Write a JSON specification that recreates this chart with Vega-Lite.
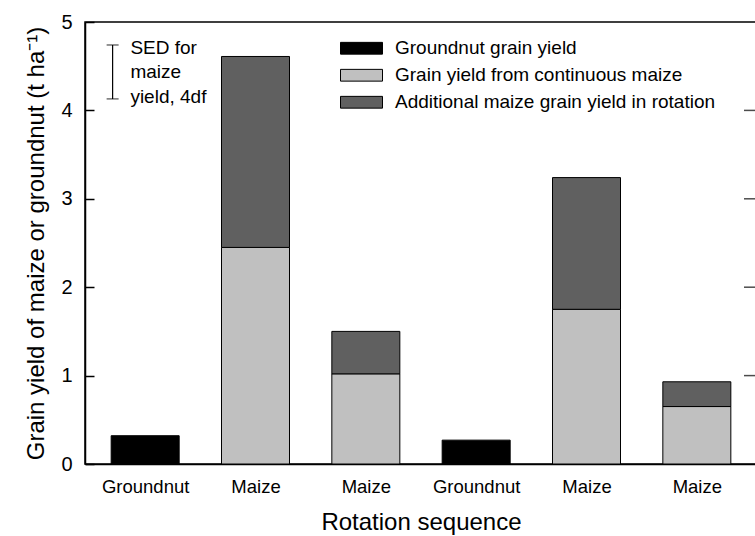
{
  "$schema": "https://vega.github.io/schema/vega-lite/v6.json",
  "autosize": {"type": "none"},
  "padding": {"left": 85, "top": 22, "right": 0, "bottom": 72},
  "width": 672,
  "height": 442,
  "config": {
    "font": "Liberation Sans",
    "view": {"stroke": "black", "strokeWidth": 1.5},
    "axis": {"grid": false, "domainColor": "black", "tickColor": "black", "labelColor": "black", "titleColor": "black", "titleFontWeight": "normal"}
  },
  "datasets": {
    "bars": [
      {"pos": 1, "crop": "Groundnut", "component": "Groundnut grain yield", "y0": 0, "y1": 0.32},
      {"pos": 2, "crop": "Maize", "component": "Grain yield from continuous maize", "y0": 0, "y1": 2.45},
      {"pos": 2, "crop": "Maize", "component": "Additional maize grain yield in rotation", "y0": 2.45, "y1": 4.61},
      {"pos": 3, "crop": "Maize", "component": "Grain yield from continuous maize", "y0": 0, "y1": 1.02},
      {"pos": 3, "crop": "Maize", "component": "Additional maize grain yield in rotation", "y0": 1.02, "y1": 1.5},
      {"pos": 4, "crop": "Groundnut", "component": "Groundnut grain yield", "y0": 0, "y1": 0.27},
      {"pos": 5, "crop": "Maize", "component": "Grain yield from continuous maize", "y0": 0, "y1": 1.75},
      {"pos": 5, "crop": "Maize", "component": "Additional maize grain yield in rotation", "y0": 1.75, "y1": 3.24},
      {"pos": 6, "crop": "Maize", "component": "Grain yield from continuous maize", "y0": 0, "y1": 0.65},
      {"pos": 6, "crop": "Maize", "component": "Additional maize grain yield in rotation", "y0": 0.65, "y1": 0.93}
    ],
    "sed": [{"x": 0.705, "lo": 4.13, "hi": 4.74}],
    "notes": [
      {"x": 0.866, "y": 4.71, "text": "SED for"},
      {"x": 0.866, "y": 4.43, "text": "maize"},
      {"x": 0.866, "y": 4.15, "text": "yield, 4df"}
    ]
  },
  "layer": [
    {
      "data": {"name": "bars"},
      "mark": {"type": "bar", "size": 68, "stroke": "black", "strokeWidth": 1},
      "encoding": {
        "x": {
          "field": "pos", "type": "quantitative",
          "scale": {"domain": [0.5, 6.5], "nice": false, "zero": false},
          "axis": {
            "values": [1, 2, 3, 4, 5, 6],
            "labelExpr": "datum.value == 1 || datum.value == 4 ? 'Groundnut' : 'Maize'",
            "ticks": false, "domainWidth": 1.5,
            "labelFontSize": 18.5, "labelPadding": 13,
            "title": "Rotation sequence", "titleFontSize": 24, "titlePadding": 15
          }
        },
        "y": {
          "field": "y0", "type": "quantitative",
          "scale": {"domain": [0, 5], "nice": false},
          "axis": {
            "values": [0, 1, 2, 3, 4, 5], "format": "d", "tickSize": -9, "tickWidth": 1.5, "domainWidth": 1.5,
            "labelFontSize": 20, "labelPadding": 22,
            "title": "Grain yield of maize or groundnut (t ha⁻¹)", "titleFontSize": 24, "titlePadding": 12
          }
        },
        "y2": {"field": "y1"},
        "color": {
          "field": "component", "type": "nominal",
          "scale": {
            "domain": ["Groundnut grain yield", "Grain yield from continuous maize", "Additional maize grain yield in rotation"],
            "range": ["#000000", "#c0c0c0", "#606060"]
          },
          "legend": {
            "title": null, "orient": "none", "legendX": 255, "legendY": 13,
            "symbolType": "M-1,-0.28H1V0.28H-1Z", "symbolSize": 1764,
            "symbolStrokeColor": "black", "symbolStrokeWidth": 1,
            "clipHeight": 26.5, "rowPadding": 0,
            "labelFontSize": 19, "labelOffset": 12, "labelColor": "black", "labelLimit": 400
          }
        }
      }
    },
    {
      "data": {"values": [{"v": 1}, {"v": 2}, {"v": 3}, {"v": 4}]},
      "mark": {"type": "tick", "orient": "horizontal", "size": 16, "color": "black", "thickness": 1.5},
      "encoding": {
        "x": {"datum": 6.5, "type": "quantitative"},
        "y": {"field": "v", "type": "quantitative"}
      }
    },
    {
      "data": {"name": "sed"},
      "mark": {"type": "rule", "color": "black", "strokeWidth": 1.2},
      "encoding": {
        "x": {"field": "x", "type": "quantitative"},
        "y": {"field": "lo", "type": "quantitative"},
        "y2": {"field": "hi"}
      }
    },
    {
      "data": {"name": "sed"},
      "mark": {"type": "tick", "orient": "horizontal", "size": 12, "color": "black", "thickness": 1.2},
      "encoding": {
        "x": {"field": "x", "type": "quantitative"},
        "y": {"field": "lo", "type": "quantitative"}
      }
    },
    {
      "data": {"name": "sed"},
      "mark": {"type": "tick", "orient": "horizontal", "size": 12, "color": "black", "thickness": 1.2},
      "encoding": {
        "x": {"field": "x", "type": "quantitative"},
        "y": {"field": "hi", "type": "quantitative"}
      }
    },
    {
      "data": {"name": "notes"},
      "mark": {"type": "text", "align": "left", "baseline": "middle", "fontSize": 19, "color": "black"},
      "encoding": {
        "x": {"field": "x", "type": "quantitative"},
        "y": {"field": "y", "type": "quantitative"},
        "text": {"field": "text"}
      }
    }
  ]
}
